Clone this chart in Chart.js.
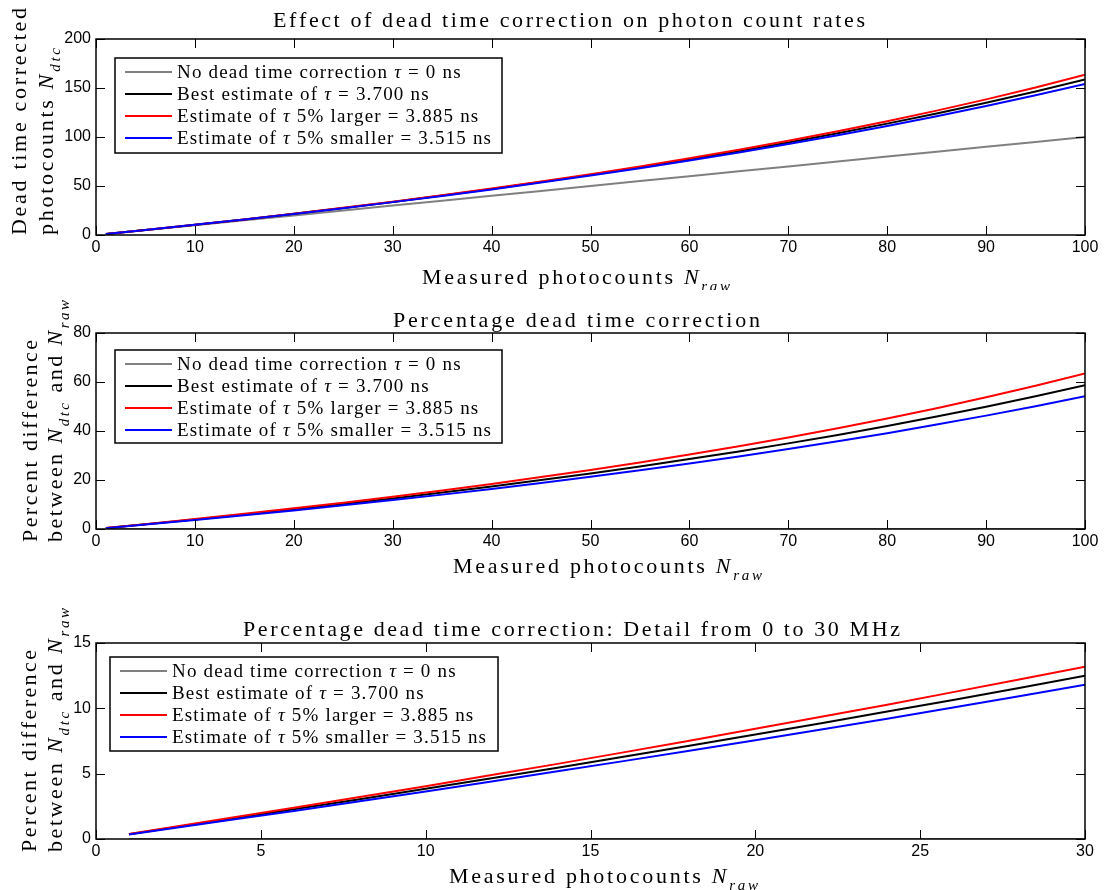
<!DOCTYPE html>
<html>
<head>
<meta charset="utf-8">
<script src="https://cdn.jsdelivr.net/npm/chart.js@4.4.1/dist/chart.umd.min.js"></script>
<style>
body { margin: 0; background: #fff; width: 1104px; height: 890px; position: relative; overflow: hidden; }
canvas { position: absolute; left: 0; }
</style>
</head>
<body>
<canvas id="c1" width="1104" height="290" style="top:0px"></canvas>
<canvas id="c2" width="1104" height="300" style="top:290px"></canvas>
<canvas id="c3" width="1104" height="300" style="top:590px"></canvas>
<script>
// measured photocounts (MHz)
var xFull = [1, 5, 10, 15, 20, 25, 30, 35, 40, 45, 50, 55, 60, 65, 70, 75, 80, 85, 90, 95, 100];
var xDetail = [1, 2, 4, 6, 8, 10, 12, 14, 16, 18, 20, 22, 24, 26, 28, 30];

// top panel: dead time corrected photocounts
var countsNone = [1, 5, 10, 15, 20, 25, 30, 35, 40, 45, 50, 55, 60, 65, 70, 75, 80, 85, 90, 95, 100];
var countsBest = [1.00, 5.09, 10.38, 15.88, 21.60, 27.55, 33.75, 40.21, 46.95, 53.99, 61.35, 69.05, 77.12, 85.58, 94.47, 103.81, 113.64, 124.00, 134.93, 146.49, 158.73];
var countsLarger = [1.00, 5.10, 10.40, 15.93, 21.68, 27.69, 33.96, 40.51, 47.36, 54.53, 62.05, 69.95, 78.24, 86.96, 96.15, 105.84, 116.08, 126.91, 138.39, 150.57, 163.53];
var countsSmaller = [1.00, 5.09, 10.36, 15.84, 21.51, 27.41, 33.54, 39.91, 46.54, 53.46, 60.66, 68.18, 76.04, 84.25, 92.84, 101.85, 111.30, 121.22, 131.65, 142.63, 154.20];

// middle panel: percentage correction
var pctNone = [0, 0, 0, 0, 0, 0, 0, 0, 0, 0, 0, 0, 0, 0, 0, 0, 0, 0, 0, 0, 0];
var pctBest = [0.37, 1.89, 3.84, 5.87, 7.99, 10.19, 12.49, 14.89, 17.37, 19.98, 22.70, 25.55, 28.53, 31.66, 34.95, 38.41, 42.05, 45.88, 49.93, 54.20, 58.73];
var pctLarger = [0.39, 1.98, 4.04, 6.19, 8.43, 10.76, 13.19, 15.74, 18.40, 21.18, 24.10, 27.18, 30.39, 33.78, 37.35, 41.12, 45.10, 49.31, 53.77, 58.50, 63.53];
var pctSmaller = [0.35, 1.79, 3.64, 5.59, 7.56, 9.65, 11.80, 14.03, 16.36, 18.80, 21.32, 23.97, 26.73, 29.61, 32.63, 35.80, 39.12, 42.61, 46.28, 50.14, 54.20];

// bottom panel: detail 0 to 30 MHz
var detailNone = [0, 0, 0, 0, 0, 0, 0, 0, 0, 0, 0, 0, 0, 0, 0, 0];
var detailBest = [0.37, 0.75, 1.50, 2.27, 3.05, 3.84, 4.65, 5.46, 6.29, 7.14, 7.99, 8.86, 9.75, 10.64, 11.56, 12.49];
var detailLarger = [0.39, 0.78, 1.58, 2.39, 3.21, 4.04, 4.89, 5.75, 6.63, 7.52, 8.43, 9.35, 10.28, 11.24, 12.21, 13.19];
var detailSmaller = [0.35, 0.71, 1.43, 2.15, 2.89, 3.64, 4.40, 5.18, 5.96, 6.75, 7.56, 8.38, 9.21, 10.06, 10.92, 11.80];

var seriesLabels = [
    'No dead time correction \u03c4 = 0 ns',
    'Best estimate of \u03c4 = 3.700 ns',
    'Estimate of \u03c4 5% larger = 3.885 ns',
    'Estimate of \u03c4 5% smaller = 3.515 ns'
];

var SERIF = '"Liberation Serif", "DejaVu Serif", serif';

// rich text: parts are [text, kind], kind r = roman, i = italic, s = italic subscript
function partFont(kind, size) {
    if (kind === 's') return 'italic ' + Math.round(size * 0.68) + 'px ' + SERIF;
    if (kind === 'i') return 'italic ' + size + 'px ' + SERIF;
    return size + 'px ' + SERIF;
}

function naturalWidth(ctx, parts, size) {
    var w = 0, n = 0;
    parts.forEach(function (p) {
        ctx.font = partFont(p[1], size);
        for (var i = 0; i < p[0].length; i++) { w += ctx.measureText(p[0][i]).width; n++; }
    });
    return { w: w, n: n };
}

function drawRich(ctx, parts, size, x, y, spacing) {
    var cx = x;
    parts.forEach(function (p) {
        ctx.font = partFont(p[1], size);
        var dy = p[1] === 's' ? size * 0.3 : 0;
        for (var i = 0; i < p[0].length; i++) {
            ctx.fillText(p[0][i], cx, y + dy);
            cx += ctx.measureText(p[0][i]).width + spacing;
        }
    });
}

function fitSpacing(ctx, parts, size, target) {
    var m = naturalWidth(ctx, parts, size);
    return (target - m.w) / Math.max(m.n - 1, 1);
}

function tauParts(label) {
    var bits = label.split('\u03c4');
    return [[bits[0], 'r'], ['\u03c4', 'i'], [bits[1], 'r']];
}

var decorPlugin = {
    id: 'decor',
    afterDraw: function (chart) {
        var o = chart.options.plugins.decor;
        var ctx = chart.ctx, a = chart.chartArea;
        var xs = chart.scales.x, ys = chart.scales.y;
        var off = o.top;
        ctx.save();

        // inward ticks on all four sides
        ctx.strokeStyle = '#000';
        ctx.lineWidth = 1;
        ctx.beginPath();
        xs.ticks.forEach(function (t) {
            var px = Math.round(xs.getPixelForValue(t.value)) + 0.5;
            ctx.moveTo(px, a.bottom); ctx.lineTo(px, a.bottom - 9);
            ctx.moveTo(px, a.top); ctx.lineTo(px, a.top + 9);
        });
        ys.ticks.forEach(function (t) {
            var py = Math.round(ys.getPixelForValue(t.value)) + 0.5;
            ctx.moveTo(a.left, py); ctx.lineTo(a.left + 9, py);
            ctx.moveTo(a.right, py); ctx.lineTo(a.right - 9, py);
        });
        ctx.stroke();

        ctx.lineWidth = 1.5;
        ctx.strokeRect(a.left, a.top, a.right - a.left, a.bottom - a.top);

        // legend box
        var L = o.legend;
        var ly = L.y - off;
        ctx.fillStyle = '#fff';
        ctx.fillRect(L.x, ly, L.w, L.h);
        ctx.strokeStyle = '#000';
        ctx.lineWidth = 1.5;
        ctx.strokeRect(L.x, ly, L.w, L.h);
        ctx.fillStyle = '#000';
        ctx.textBaseline = 'alphabetic';
        ctx.textAlign = 'left';
        var sp = fitSpacing(ctx, tauParts(seriesLabels[3]), 19, 314);
        chart.data.datasets.forEach(function (ds, i) {
            var ry = ly + 14 + i * 22;
            ctx.strokeStyle = ds.borderColor;
            ctx.lineWidth = 2;
            ctx.beginPath();
            ctx.moveTo(L.x + 10, ry); ctx.lineTo(L.x + 57, ry);
            ctx.stroke();
            ctx.fillStyle = '#000';
            drawRich(ctx, tauParts(ds.label), 19, L.x + 62, ry + 6, sp);
        });

        // title and x label
        [o.title, o.xlabel].forEach(function (t) {
            var s = fitSpacing(ctx, t.parts, 22, t.w);
            drawRich(ctx, t.parts, 22, t.x, t.y - off, s);
        });

        // rotated y label lines
        o.ylabels.forEach(function (t) {
            var s = fitSpacing(ctx, t.parts, 22, t.w);
            ctx.save();
            ctx.translate(t.x, t.y - off);
            ctx.rotate(-Math.PI / 2);
            drawRich(ctx, t.parts, 22, 0, 0, s);
            ctx.restore();
        });
        ctx.restore();
    }
};

function makeDatasets(xv, none, best, larger, smaller) {
    function pts(ys) { return xv.map(function (x, i) { return { x: x, y: ys[i] }; }); }
    var colors = ['#808080', '#000000', '#ff0000', '#0000ff'];
    return [none, best, larger, smaller].map(function (ys, i) {
        return {
            label: seriesLabels[i],
            data: pts(ys),
            borderColor: colors[i],
            borderWidth: 2,
            pointRadius: 0,
            tension: 0,
            fill: false,
            order: 4 - i
        };
    });
}

function makeChart(id, datasets, sc, decor) {
    var tickFont = { family: '"Liberation Sans", Arial, sans-serif', size: 16 };
    return new Chart(document.getElementById(id).getContext('2d'), {
        type: 'line',
        data: { datasets: datasets },
        options: {
            responsive: false,
            animation: false,
            layout: { padding: { top: sc.padTop, right: 19, left: 0, bottom: 0 } },
            scales: {
                x: {
                    type: 'linear', min: 0, max: sc.xmax,
                    grid: { display: false, drawTicks: false, tickLength: 0 },
                    border: { display: false },
                    ticks: { stepSize: sc.xstep, color: '#000', font: tickFont, padding: 3, maxRotation: 0, autoSkip: false },
                    afterFit: function (s) { s.height = sc.xh; }
                },
                y: {
                    min: 0, max: sc.ymax,
                    grid: { display: false, drawTicks: false, tickLength: 0 },
                    border: { display: false },
                    ticks: { stepSize: sc.ystep, color: '#000', font: tickFont, padding: 5 },
                    afterFit: function (s) { s.width = 96; }
                }
            },
            plugins: {
                legend: { display: false },
                tooltip: { enabled: false },
                decor: decor
            }
        },
        plugins: [decorPlugin]
    });
}

makeChart('c1', makeDatasets(xFull, countsNone, countsBest, countsLarger, countsSmaller),
    { padTop: 39, xh: 55, xmax: 100, xstep: 10, ymax: 200, ystep: 50 },
    {
        top: 0,
        legend: { x: 115, y: 58, w: 387, h: 95 },
        title: { parts: [['Effect of dead time correction on photon count rates', 'r']], x: 273, y: 27, w: 592 },
        xlabel: { parts: [['Measured photocounts ', 'r'], ['N', 'i'], ['raw', 's']], x: 422, y: 284, w: 308 },
        ylabels: [
            { parts: [['Dead time corrected', 'r']], x: 26, y: 235, w: 227 },
            { parts: [['photocounts ', 'r'], ['N', 'i'], ['dtc', 's']], x: 53, y: 235, w: 187 }
        ]
    });

makeChart('c2', makeDatasets(xFull, pctNone, pctBest, pctLarger, pctSmaller),
    { padTop: 43, xh: 61, xmax: 100, xstep: 10, ymax: 80, ystep: 20 },
    {
        top: 290,
        legend: { x: 115, y: 350, w: 387, h: 93 },
        title: { parts: [['Percentage dead time correction', 'r']], x: 393, y: 327, w: 367 },
        xlabel: { parts: [['Measured photocounts ', 'r'], ['N', 'i'], ['raw', 's']], x: 453, y: 573, w: 309 },
        ylabels: [
            { parts: [['Percent difference', 'r']], x: 37, y: 542, w: 202 },
            { parts: [['between ', 'r'], ['N', 'i'], ['dtc', 's'], [' and ', 'r'], ['N', 'i'], ['raw', 's']], x: 62, y: 542, w: 242 }
        ]
    });

makeChart('c3', makeDatasets(xDetail, detailNone, detailBest, detailLarger, detailSmaller),
    { padTop: 53, xh: 51, xmax: 30, xstep: 5, ymax: 15, ystep: 5 },
    {
        top: 590,
        legend: { x: 110, y: 657, w: 388, h: 94 },
        title: { parts: [['Percentage dead time correction: Detail from 0 to 30 MHz', 'r']], x: 243, y: 636, w: 657 },
        xlabel: { parts: [['Measured photocounts ', 'r'], ['N', 'i'], ['raw', 's']], x: 449, y: 883, w: 309 },
        ylabels: [
            { parts: [['Percent difference', 'r']], x: 36, y: 852, w: 202 },
            { parts: [['between ', 'r'], ['N', 'i'], ['dtc', 's'], [' and ', 'r'], ['N', 'i'], ['raw', 's']], x: 62, y: 852, w: 244 }
        ]
    });
</script>
</body>
</html>
